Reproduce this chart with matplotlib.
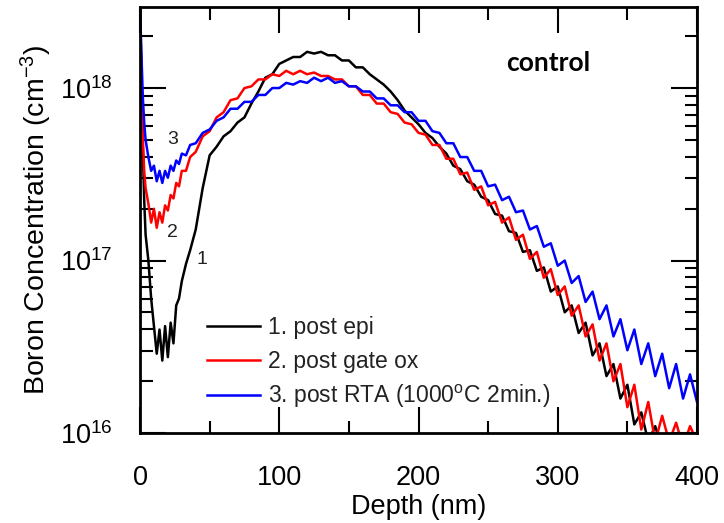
import numpy as np
import matplotlib
matplotlib.use("Agg")
from matplotlib import pyplot as plt
from matplotlib.ticker import LogLocator, MultipleLocator, NullFormatter

plt.rcParams['font.family'] = ['Liberation Sans', 'DejaVu Sans']
plt.rcParams['mathtext.default'] = 'regular'

# depth grid (nm)
depth = [0, 1, 2, 3, 4, 6, 8, 10, 12, 14, 16, 18, 20, 22, 24, 26, 28, 30, 33, 36, 40,
         45, 50, 55, 60, 65, 70, 75, 80, 85, 90, 95, 100,
         105, 110, 115, 120, 125, 130, 135, 140, 145, 150, 155, 160,
         165, 170, 175, 180, 185, 190, 195, 200, 205, 210, 215, 220,
         225, 230, 235, 240, 245, 250, 255, 260, 265, 270, 275, 280,
         285, 290, 295, 300, 305, 310, 315, 320, 325, 330, 335, 340,
         345, 350, 355, 360, 365, 370, 375, 380, 385, 390, 395, 400]

# log10 of boron concentration (cm^-3)
log_epi = [18.47, 18.10, 17.65, 17.35, 17.15, 17.00, 16.78, 16.62, 16.46, 16.60, 16.42,
           16.62, 16.44, 16.64, 16.52, 16.74, 16.78, 16.88, 16.98, 17.06, 17.18,
           17.42, 17.61, 17.66, 17.72, 17.75, 17.80, 17.83, 17.91, 17.98, 18.06, 18.08, 18.14,
           18.16, 18.18, 18.18, 18.21, 18.20, 18.21, 18.19, 18.19, 18.16, 18.16, 18.12, 18.12,
           18.08, 18.05, 18.02, 17.98, 17.93, 17.87, 17.83, 17.79, 17.74, 17.71, 17.66, 17.62,
           17.55, 17.53, 17.46, 17.44, 17.37, 17.35, 17.27, 17.26, 17.17, 17.16, 17.05, 17.06,
           16.94, 16.96, 16.82, 16.85, 16.70, 16.74, 16.58, 16.64, 16.45, 16.52, 16.33, 16.40,
           16.20, 16.28, 16.05, 16.12, 15.95, 16.04, 15.90, 15.98, 15.85, 15.95, 15.85, 15.90]

log_gateox = [18.47, 18.00, 17.72, 17.52, 17.42, 17.33, 17.22, 17.30, 17.19, 17.28, 17.22,
              17.32, 17.29, 17.38, 17.36, 17.45, 17.43, 17.52, 17.52, 17.60, 17.63,
              17.72, 17.75, 17.83, 17.86, 17.93, 17.94, 18.00, 18.01, 18.05, 18.05, 18.08, 18.07,
              18.10, 18.08, 18.10, 18.08, 18.09, 18.07, 18.07, 18.05, 18.05, 18.01, 18.01, 17.96,
              17.96, 17.91, 17.91, 17.86, 17.85, 17.80, 17.79, 17.74, 17.73, 17.67, 17.67, 17.59,
              17.59, 17.50, 17.51, 17.41, 17.43, 17.32, 17.34, 17.22, 17.25, 17.12, 17.15, 17.01,
              17.05, 16.90, 16.95, 16.80, 16.85, 16.68, 16.74, 16.56, 16.63, 16.42, 16.52, 16.30,
              16.40, 16.15, 16.28, 16.02, 16.18, 15.95, 16.10, 15.95, 16.06, 15.92, 16.04, 15.95]

log_rta = [18.47, 18.20, 17.95, 17.80, 17.70, 17.60, 17.52, 17.55, 17.46, 17.52, 17.45,
           17.52, 17.48, 17.55, 17.52, 17.58, 17.56, 17.62, 17.61, 17.67, 17.68,
           17.74, 17.76, 17.81, 17.83, 17.88, 17.88, 17.92, 17.92, 17.96, 17.96, 18.00, 18.00,
           18.03, 18.02, 18.04, 18.03, 18.06, 18.04, 18.06, 18.03, 18.04, 18.01, 18.01, 17.98,
           17.98, 17.94, 17.94, 17.90, 17.90, 17.86, 17.86, 17.81, 17.81, 17.75, 17.74, 17.68,
           17.68, 17.60, 17.60, 17.52, 17.52, 17.43, 17.44, 17.35, 17.37, 17.28, 17.29, 17.18,
           17.20, 17.08, 17.10, 16.97, 17.00, 16.87, 16.91, 16.76, 16.82, 16.66, 16.74, 16.56,
           16.66, 16.48, 16.60, 16.40, 16.52, 16.33, 16.46, 16.26, 16.40, 16.20, 16.34, 16.18]

labels = ["1. post epi", "2. post gate ox", "3. post RTA (1000$^{o}$C 2min.)"]
colors = ["#000000", "#ff0000", "#0000ff"]

fig = plt.figure(figsize=(7.24, 5.23), dpi=100)
ax = fig.add_axes([0.1934, 0.172, 0.7693, 0.8146])

for vals, lab, col in zip([log_epi, log_gateox, log_rta], labels, colors):
    ax.plot(depth, 10 ** np.array(vals), color=col, lw=1.8, label=lab)

ax.set_yscale('log')
ax.set_xlim(0, 400)
ax.set_ylim(1e16, 2.95e18)

ax.xaxis.set_major_locator(MultipleLocator(100))
ax.xaxis.set_minor_locator(MultipleLocator(50))
ax.yaxis.set_major_locator(LogLocator(base=10, numticks=10))
ax.yaxis.set_minor_locator(LogLocator(base=10, subs=np.arange(2, 10), numticks=20))
ax.yaxis.set_minor_formatter(NullFormatter())

ax.tick_params(which='both', direction='in', top=True, right=True, width=1.5, labelsize=19.5)
ax.tick_params(which='major', length=18.5, pad=20)
ax.tick_params(axis='x', which='major', pad=23)
ax.tick_params(which='minor', length=9)
for s in ax.spines.values():
    s.set_linewidth(2)

ax.set_xlabel("Depth (nm)", fontsize=19.5, labelpad=2)
ax.set_ylabel("Boron Concentration (cm$^{-3}$)", fontsize=20.5, labelpad=4)

# curve numbers
ax.text(23.7, 5.0e17, "3", fontsize=14, color='#222222', ha='center', va='center')
ax.text(23, 1.46e17, "2", fontsize=14, color='#222222', ha='center', va='center')
ax.text(44.5, 1.02e17, "1", fontsize=14, color='#222222', ha='center', va='center')

ax.text(0.733, 0.869, "control", transform=ax.transAxes, fontsize=19,
        fontweight='bold', family='Lato', ha='center', va='center')

leg = ax.legend(loc='upper left', bbox_to_anchor=(0.12, 0.274), frameon=False,
                fontsize=16.5, handlelength=2.3, handletextpad=0.35,
                labelspacing=0.45, borderpad=0, borderaxespad=0)
for t in leg.get_texts():
    t.set_color('#222222')

fig.savefig("out.png", dpi=100)
